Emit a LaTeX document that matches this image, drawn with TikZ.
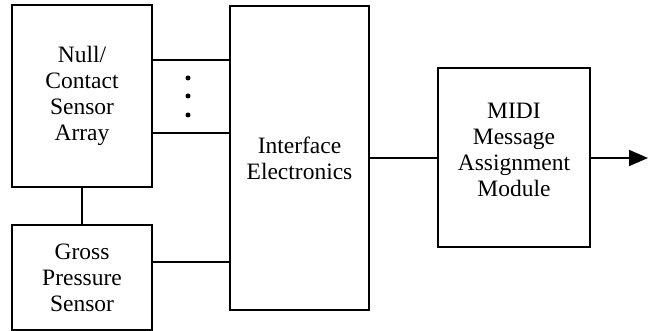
\documentclass[tikz,border=0pt]{standalone}
\usepackage{fontspec}
\setmainfont{Liberation Serif}
\usetikzlibrary{arrows.meta}
\begin{document}
\begin{tikzpicture}[x=1pt,y=-1pt,
  blk/.style={draw,line width=1.8pt,inner sep=0pt,align=center,
    font=\fontsize{23.5}{26}\selectfont},
  wire/.style={line width=1.8pt},
  dotmark/.style={fill,circle,inner sep=0pt,minimum size=5pt}]
\useasboundingbox (0,0) rectangle (648,331);
% blocks
\node[blk,minimum width=140pt,minimum height=182pt] (null) at (82,96) {Null/\\Contact\\Sensor\\Array};
\node[blk,minimum width=140pt,minimum height=105pt] (gross) at (82,277.5) {Gross\\Pressure\\Sensor};
\node[blk,minimum width=139pt,minimum height=304pt] (ie) at (299.5,158) {Interface\\Electronics};
\node[blk,minimum width=152pt,minimum height=179pt] (midi) at (514,157.5) {};
\node[align=center,font=\fontsize{23.5}{26}\selectfont] (midilbl) at (514,150) {MIDI\\Message\\Assignment\\Module};
% ellipsis between the sensor array lines
\node[dotmark] (d1) at (188,78) {};
\node[dotmark] (d2) at (188,96) {};
\node[dotmark] (d3) at (188,115) {};
% connectors
\draw[wire] (null.south) -- (gross.north);
\draw[wire] (null.east |- 0,60) -- (ie.west |- 0,60);
\draw[wire] (null.east |- 0,133) -- (ie.west |- 0,133);
\draw[wire] (gross.east |- 0,262) -- (ie.west |- 0,262);
\draw[wire] (ie.east |- 0,158) -- (midi.west |- 0,158);
\coordinate (out) at (648,158);
\draw[wire,-{Triangle[length=19pt,width=16pt]}] (midi.east |- 0,158) -- (out);
\end{tikzpicture}
\end{document}
